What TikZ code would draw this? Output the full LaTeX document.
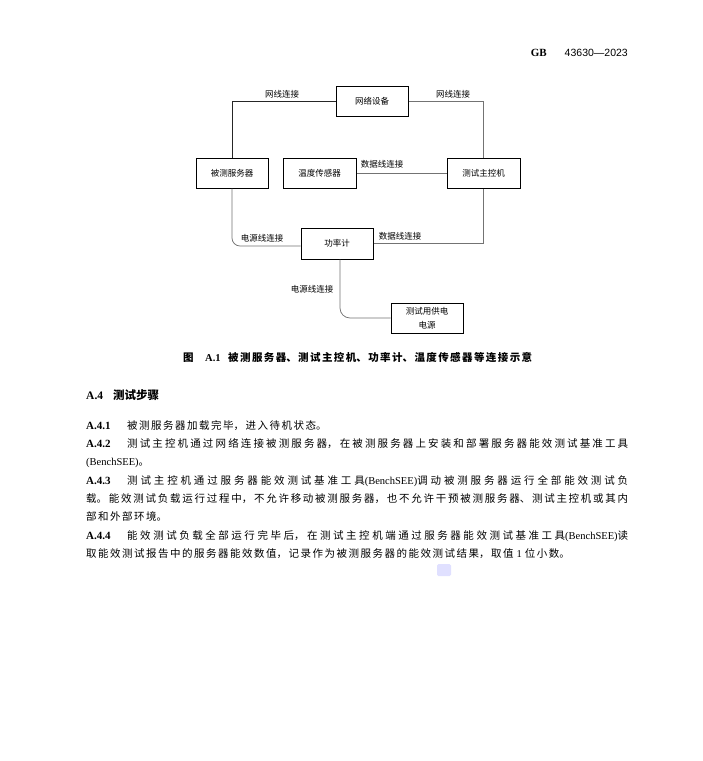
\documentclass[tikz,border=0pt]{standalone}
\usepackage{fontspec}
\setmainfont{Noto Sans CJK SC}
\newfontfamily\serifl{Liberation Serif}
\newfontfamily\sansl{Liberation Sans}
\XeTeXlinebreaklocale "zh"
\XeTeXlinebreakskip=1.5pt plus 3pt
\newcommand\myjpar[2]{\vbox{\hsize=#1\relax\parindent=0pt\leftskip=0pt\rightskip=0pt\parfillskip=0pt\noindent #2\par}}
\newcommand\mynpar[1]{\vbox{\hsize=600pt\parindent=0pt\leftskip=0pt\rightskip=0pt plus 1fil\parfillskip=0pt plus 1fil\noindent #1\par}}
\usetikzlibrary{calc}
\begin{document}
\begin{tikzpicture}[x=1pt,y=-1pt,
  box/.style={draw=black, line width=1pt, minimum width=72pt, minimum height=30pt,
    inner sep=0pt, font=\fontsize{8.5}{14}\selectfont, align=center},
  wire/.style={draw=black!55, line width=0.75pt},
  darkwire/.style={draw=black!85, line width=0.75pt},
  lab/.style={font=\fontsize{8.5}{10}\selectfont, inner sep=0pt},
  body/.style={font=\fontsize{10.5}{13}\selectfont, inner sep=0pt, anchor=base west},
  numlab/.style={font=\serifl\bfseries\fontsize{11}{13}\selectfont, inner sep=0pt, anchor=base west}
]
\fill[white] (0,0) rectangle (703,761);
\useasboundingbox (0,0) rectangle (703,761);

% header
\node[inner sep=0pt, anchor=base east] (hdr) at (628,56)
  {{\serifl\bfseries\fontsize{11}{13}\selectfont GB}\hspace{18pt}{\sansl\fontsize{10.5}{13}\selectfont 43630—2023}};

% boxes
\node[box] (net)  at (372,101.5) {网络设备};
\node[box] (srv)  at (232,173) {被测服务器};
\node[box, minimum width=73pt] (temp) at (319.5,173) {温度传感器};
\node[box, minimum width=73pt] (ctl)  at (483.5,173) {测试主控机};
\node[box, minimum height=31pt] (pw)   at (337,243.5) {功率计};
\node[box] (psu)  at (427,318) {测试用供电\\电源};

% connectors
\draw[darkwire] (net.west) -| (srv.north);
\draw[wire] (net.east) -| (ctl.north);
\draw[wire] (temp.east) -- (ctl.west);
\draw[wire, rounded corners=8pt] (srv.south) |- ([yshift=-2.5pt]pw.west);
\draw[wire] (pw.east) -| (ctl.south);
\draw[wire, rounded corners=10pt] ([xshift=3pt]pw.south) |- (psu.west);

% connector labels
\node[lab] (l1) at (282,94) {网线连接};
\node[lab] (l2) at (453,94) {网线连接};
\node[lab] (l3) at (382,164) {数据线连接};
\node[lab] (l4) at (262,238) {电源线连接};
\node[lab] (l5) at (400,236) {数据线连接};
\node[lab] (l6) at (312,289) {电源线连接};

% caption
\node[inner sep=0pt, anchor=base west, font=\bfseries\fontsize{10.5}{13}\selectfont] (capa) at (183,361) {图};
\node[inner sep=0pt, anchor=base west, font=\serifl\bfseries\fontsize{10.5}{13}\selectfont] (capb) at (205,361) {A.1};
\node[inner sep=0pt, anchor=base west, font=\bfseries\fontsize{10.5}{13}\selectfont] (capc) at (228,361)
  {\myjpar{304pt}{\XeTeXlinebreakskip=0.3pt plus 3pt\relax 被测服务器、测试主控机、功率计、温度传感器等连接示意}};

% section heading
\node[numlab, font=\serifl\bfseries\fontsize{11.5}{13}\selectfont] (sa) at (86,399.5) {A.4};
\node[inner sep=0pt, anchor=base west, font=\bfseries\fontsize{11.5}{13}\selectfont] (sb) at (113,399.5) {测试步骤};

% A.4.1
\node[numlab] (n1) at (86,429) {A.4.1};
\node[body] (t1) at (127,429) {\mynpar{被测服务器加载完毕，进入待机状态。}};

% A.4.2
\node[numlab] (n2) at (86,447) {A.4.2};
\node[body] (t2a) at (127,447) {\myjpar{501pt}{测试主控机通过网络连接被测服务器，在被测服务器上安装和部署服务器能效测试基准工具}};
\node[body] (t2b) at (86,465) {\mynpar{{\serifl (BenchSEE)}。}};

% A.4.3
\node[numlab] (n3) at (86,484) {A.4.3};
\node[body] (t3a) at (127,484) {\myjpar{501pt}{测试主控机通过服务器能效测试基准工具{\serifl (BenchSEE)}调动被测服务器运行全部能效测试负}};
\node[body] (t3b) at (86,502) {\myjpar{542pt}{载。能效测试负载运行过程中，不允许移动被测服务器，也不允许干预被测服务器、测试主控机或其内}};
\node[body] (t3c) at (86,520) {\mynpar{部和外部环境。}};

% A.4.4
\node[numlab] (n4) at (86,539) {A.4.4};
\node[body] (t4a) at (127,539) {\myjpar{501pt}{能效测试负载全部运行完毕后，在测试主控机端通过服务器能效测试基准工具{\serifl (BenchSEE)}读}};
\node[body] (t4b) at (86,557) {\mynpar{取能效测试报告中的服务器能效数值，记录作为被测服务器的能效测试结果，取值\hspace{3pt}{\serifl 1}\hspace{3pt}位小数。}};

% faint logo mark
\fill[blue!12, rounded corners=1.5pt] (437,564) rectangle (451,576);
\end{tikzpicture}
\end{document}
